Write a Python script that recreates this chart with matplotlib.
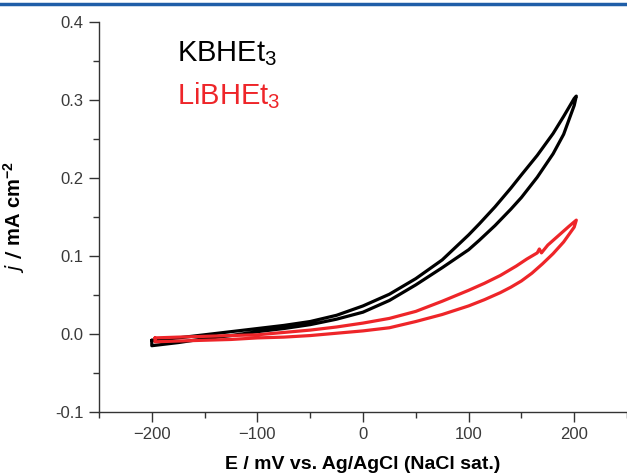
import numpy as np
import matplotlib.pyplot as plt
from matplotlib.lines import Line2D
from matplotlib.ticker import MultipleLocator

plt.rcParams['font.family'] = ['Liberation Sans', 'DejaVu Sans']
plt.rcParams['mathtext.default'] = 'regular'

# Cyclic voltammograms: potential in mV, current density in mA cm^-2
# KBHEt3, forward sweep (upper branch) then reverse sweep (lower branch)
k_fwd_E = [-200, -175, -150, -125, -100, -75, -50, -25, 0, 25, 50, 75, 100, 110, 125, 140, 150, 165, 180, 190, 200, 202]
k_fwd_j = [-0.008, -0.005, -0.001, 0.003, 0.007, 0.011, 0.016, 0.024, 0.036, 0.051, 0.071, 0.095, 0.127, 0.141,
           0.163, 0.187, 0.204, 0.229, 0.257, 0.279, 0.302, 0.305]
k_rev_E = [200, 190, 180, 165, 150, 140, 125, 110, 100, 75, 50, 25, 0, -25, -50, -75, -100, -125, -150, -175, -200, -200]
k_rev_j = [0.293, 0.256, 0.231, 0.201, 0.175, 0.160, 0.139, 0.120, 0.108, 0.085, 0.063, 0.043, 0.028, 0.019,
           0.012, 0.007, 0.003, -0.002, -0.006, -0.011, -0.015, -0.008]

# LiBHEt3, same layout; a small glitch appears on the forward sweep near 168 mV
li_fwd_E = [-197, -175, -150, -125, -100, -75, -50, -25, 0, 25, 50, 75, 100, 115, 130, 145, 155, 165, 167, 169,
            175, 185, 195, 202]
li_fwd_j = [-0.005, -0.004, -0.003, -0.002, -0.001, 0.002, 0.005, 0.009, 0.014, 0.020, 0.029, 0.042, 0.056, 0.065,
            0.075, 0.087, 0.096, 0.104, 0.109, 0.104, 0.114, 0.126, 0.138, 0.146]
li_rev_E = [200, 190, 180, 170, 160, 150, 140, 130, 115, 100, 75, 50, 25, 0, -25, -50, -75, -100, -125, -150, -175,
            -197, -197]
li_rev_j = [0.137, 0.118, 0.103, 0.090, 0.078, 0.068, 0.060, 0.053, 0.044, 0.036, 0.025, 0.016, 0.008, 0.004, 0.001,
            -0.002, -0.004, -0.005, -0.007, -0.008, -0.009, -0.010, -0.005]

red = '#ee2529'

fig = plt.figure(figsize=(6.27, 4.74), dpi=100)
ax = fig.add_axes([99 / 627, 62 / 474, 1 - 99 / 627, 390 / 474])

ax.plot(k_fwd_E + k_rev_E, k_fwd_j + k_rev_j, color='black', lw=2.3,
        solid_joinstyle='round', solid_capstyle='round')
ax.plot(li_fwd_E + li_rev_E, li_fwd_j + li_rev_j, color=red, lw=2.3,
        solid_joinstyle='round', solid_capstyle='round')

ax.set_xlim(-250, 250)
ax.set_ylim(-0.1, 0.4)
ax.xaxis.set_major_locator(MultipleLocator(100))
ax.xaxis.set_minor_locator(MultipleLocator(50))
ax.yaxis.set_major_locator(MultipleLocator(0.1))
ax.yaxis.set_minor_locator(MultipleLocator(0.05))
ax.yaxis.set_major_formatter(plt.FormatStrFormatter('%.1f'))

for side in ['top', 'right']:
    ax.spines[side].set_visible(False)
for side in ['left', 'bottom']:
    ax.spines[side].set_linewidth(1.0)
    ax.spines[side].set_color('#333333')

ax.tick_params(which='major', direction='out', length=7, width=1, color='#333333',
               labelsize=12, labelcolor='#3a3a3a', pad=4)
ax.tick_params(which='minor', direction='out', length=4.5, width=1, color='#333333')

ax.set_xlabel('E / mV vs. Ag/AgCl (NaCl sat.)', fontsize=14, fontweight='bold', labelpad=10)
ax.set_ylabel(r'$\mathbf{\mathit{j}\ /}$ mA cm$^{-2}$', fontsize=14.5, fontweight='bold', labelpad=20)

ax.text(-176, 0.350, 'KBHEt$_3$', fontsize=21, color='black')
ax.text(-176, 0.294, 'LiBHEt$_3$', fontsize=21, color=red)

# header rule across the top of the figure
fig.add_artist(Line2D([0, 1], [1 - 4 / 474, 1 - 4 / 474], color='#1f5ea8', lw=2.5,
                      transform=fig.transFigure))

fig.savefig('out.png', dpi=100)
